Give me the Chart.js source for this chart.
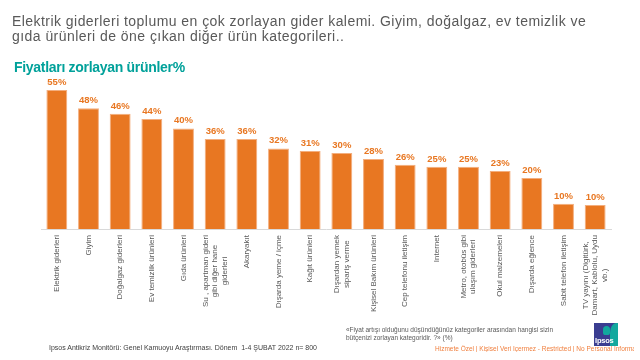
<!DOCTYPE html>
<html>
<head>
<meta charset="utf-8">
<script src="https://cdn.jsdelivr.net/npm/chart.js@4.4.1/dist/chart.umd.min.js"></script>
<style>
  html, body { margin: 0; padding: 0; background: #fff; }
  body { width: 640px; height: 360px; position: relative; overflow: hidden; font-family: "Liberation Sans", Arial, sans-serif; }
  #wrap { position: absolute; left: 0; top: 0; width: 640px; height: 360px; }
  .t { position: absolute; white-space: nowrap; }
  #head { left: 12px; top: 14px; font-size: 14px; line-height: 15px; color: #595959; letter-spacing: 0.45px; }
  #sub { left: 14px; top: 59px; font-size: 14px; font-weight: bold; color: #00A19A; font-family: "Liberation Sans Narrow", "Liberation Sans", Arial, sans-serif; letter-spacing: -0.3px; }
  #foot { left: 49px; top: 344px; font-size: 7px; color: #404040; }
  #note { left: 346px; top: 326px; font-size: 6.5px; line-height: 8px; color: #595959; }
  #link { left: 435px; top: 345px; width: 199px; overflow: hidden; font-size: 6.5px; color: #F07E3C; text-decoration: underline; }
  #logo { position: absolute; left: 594px; top: 323px; width: 24px; height: 23px; background: #3A3D91; overflow: hidden; z-index: 2; }
  #logo .tl { position: absolute; right: 0; top: 0; width: 8px; height: 23px; background: #12A89E; border-top-left-radius: 6px 10px; }
  #logo .hd { position: absolute; left: 9px; top: 3px; width: 7px; height: 9px; background: #12A89E; border-radius: 4px 4px 3px 3px; }
  #logo .tx { position: absolute; left: 1px; bottom: 1px; font-size: 7.5px; font-weight: bold; color: #fff; letter-spacing: -0.2px; }
</style>
</head>
<body>
<div id="wrap"><canvas id="chart" width="640" height="360"></canvas></div>
<div id="head" class="t">Elektrik giderleri toplumu en çok zorlayan gider kalemi. Giyim, doğalgaz, ev temizlik ve<br>gıda ürünleri de öne çıkan diğer ürün kategorileri..</div>
<div id="sub" class="t">Fiyatları zorlayan ürünler%</div>
<div id="note" class="t">«Fiyat artışı olduğunu düşündüğünüz kategoriler arasından hangisi sizin<br>bütçenizi zorlayan kategoridir. ?» (%)</div>
<div id="foot" class="t">Ipsos Antikriz Monitörü: Genel Kamuoyu Araştırması. Dönem&nbsp; 1-4 ŞUBAT 2022 n= 800</div>
<div id="link" class="t">Hizmete Özel | Kişisel Veri İçermez - Restricted | No Personal Information</div>
<div id="logo"><div class="tl"></div><div class="hd"></div><div class="tx">Ipsos</div></div>
<script>
const categories = [
  'Elektrik giderleri',
  'Giyim',
  'Doğalgaz giderleri',
  'Ev temizlik ürünleri',
  'Gıda ürünleri',
  ['Su , apartman gideri', 'gibi diğer hane', 'giderleri'],
  'Akaryakıt',
  'Dışarda yeme / içme',
  'Kağıt ürünleri',
  ['Dışardan yemek', 'sipariş verme'],
  'Kişisel Bakım ürünleri',
  'Cep telefonu iletişim',
  'Internet',
  ['Metro, otobüs gibi', 'ulaşım giderleri'],
  'Okul malzemeleri',
  'Dışarda eğlence',
  'Sabit telefon iletişim',
  ['TV yayını (Digitürk,', 'Damart, Kablolu, Uydu', 'vb.)']
];
const values = [55, 47.8, 45.6, 43.6, 39.8, 35.6, 35.6, 31.9, 30.9, 30.1, 27.7, 25.4, 24.6, 24.6, 23.0, 20.2, 10.0, 9.5];
const valueLabels = ['55%', '48%', '46%', '44%', '40%', '36%', '36%', '32%', '31%', '30%', '28%', '26%', '25%', '25%', '23%', '20%', '10%', '10%'];

const orange = '#E87722';

// value labels above the bars
const barLabels = {
  id: 'barLabels',
  afterDatasetsDraw(chart) {
    const ctx = chart.ctx;
    const meta = chart.getDatasetMeta(0);
    ctx.save();
    ctx.font = 'bold 9.5px "Liberation Sans", Arial, sans-serif';
    ctx.fillStyle = orange;
    ctx.textAlign = 'center';
    ctx.textBaseline = 'bottom';
    meta.data.forEach((bar, i) => {
      ctx.fillText(valueLabels[i], bar.x, bar.y - 3);
    });
    ctx.restore();
  }
};

// rotated category labels, each block centred on its own lines
const catLabels = {
  id: 'catLabels',
  afterDraw(chart) {
    const ctx = chart.ctx;
    const xs = chart.scales.x;
    const top = chart.chartArea.bottom + 6;
    const lh = 9.5;
    ctx.save();
    ctx.font = '8px "Liberation Sans", Arial, sans-serif';
    ctx.fillStyle = '#595959';
    ctx.textAlign = 'center';
    ctx.textBaseline = 'middle';
    categories.forEach((c, i) => {
      const lines = Array.isArray(c) ? c : [c];
      const w = Math.max(...lines.map(l => ctx.measureText(l).width));
      const x = xs.getPixelForValue(i);
      ctx.save();
      ctx.translate(x, top);
      ctx.rotate(-Math.PI / 2);
      lines.forEach((l, j) => {
        ctx.fillText(l, -w / 2, (j - (lines.length - 1) / 2) * lh);
      });
      ctx.restore();
    });
    ctx.restore();
  }
};

new Chart(document.getElementById('chart'), {
  type: 'bar',
  data: {
    labels: categories,
    datasets: [{
      data: values,
      backgroundColor: orange,
      borderColor: '#F3AE7E',
      borderWidth: 1,
      barPercentage: 0.66,
      categoryPercentage: 1
    }]
  },
  options: {
    responsive: false,
    animation: false,
    layout: { padding: { left: 41, right: 29, top: 80, bottom: 123 } },
    plugins: { legend: { display: false }, tooltip: { enabled: false } },
    scales: {
      x: {
        grid: { display: false },
        border: { display: true, color: '#D9D9D9', width: 1 },
        ticks: { display: false }
      },
      y: {
        display: false,
        min: 0,
        max: 59
      }
    }
  },
  plugins: [barLabels, catLabels]
});
</script>
</body>
</html>
